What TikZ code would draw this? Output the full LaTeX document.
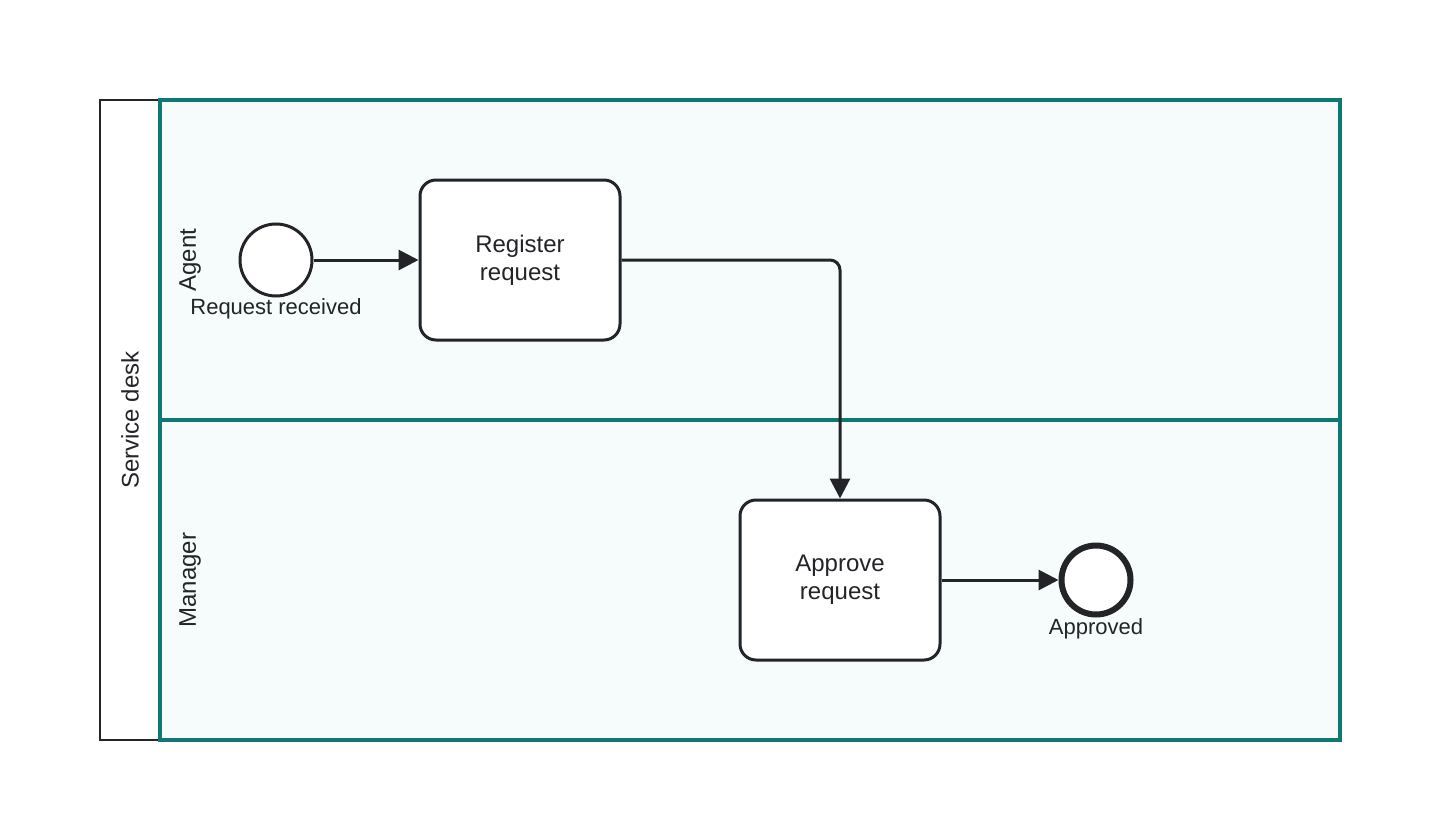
\documentclass[tikz,border=0pt]{standalone}
\usepackage{fontspec}
\setmainfont{Liberation Sans}
\usetikzlibrary{arrows.meta,positioning}
\definecolor{laneteal}{RGB}{16,120,115}
\definecolor{lanefill}{RGB}{246,251,251}
\definecolor{inkdark}{RGB}{34,36,40}
\begin{document}
\begin{tikzpicture}[x=1pt,y=-1pt,
  lane/.style={draw=laneteal,line width=4.5pt,fill=lanefill},
  lanelabel/.style={rotate=90,font=\fontsize{24}{28}\selectfont,text=inkdark},
  task/.style={draw=inkdark,line width=3pt,fill=white,rounded corners=16pt,
    minimum width=200pt,minimum height=160pt,align=center,
    font=\fontsize{24}{28}\selectfont,text=inkdark},
  startev/.style={circle,draw=inkdark,line width=3pt,fill=white,minimum size=72pt,inner sep=0pt},
  endev/.style={circle,draw=inkdark,line width=6pt,fill=white,minimum size=69pt,inner sep=0pt},
  evlabel/.style={font=\fontsize{22}{26}\selectfont,text=inkdark,inner sep=0pt},
  flow/.style={draw=inkdark,line width=3pt,-{Triangle[length=20pt,width=20pt]}}]
\useasboundingbox (0,0) rectangle (1440,840);
% pool and lanes
\draw[draw=inkdark,line width=2.5pt,fill=white] (100,100) rectangle (160,740);
\node[lanelabel] (pool) at (130,420) {Service desk};
\draw[lane] (160,100) rectangle (1340,420);
\draw[lane] (160,420) rectangle (1340,740);
\node[lanelabel] (agent) at (190,260) {Agent};
\node[lanelabel] (manager) at (190,580) {Manager};
% events and tasks
\node[startev] (start) at (276,260) {};
\node[evlabel] (startlbl) at (276,309) {Request received};
\node[task] (register) at (520,260) {Register\\request};
\node[task] (approve) at (840,580) {Approve\\request};
\node[endev] (finish) at (1096,580) {};
\node[evlabel] (finishlbl) at (1096,629) {Approved};
% sequence flows
\draw[flow] (start) -- (register);
\draw[flow,rounded corners=10pt] (register.east) -| (approve.north);
\draw[flow] (approve) -- (finish);
\end{tikzpicture}
\end{document}
